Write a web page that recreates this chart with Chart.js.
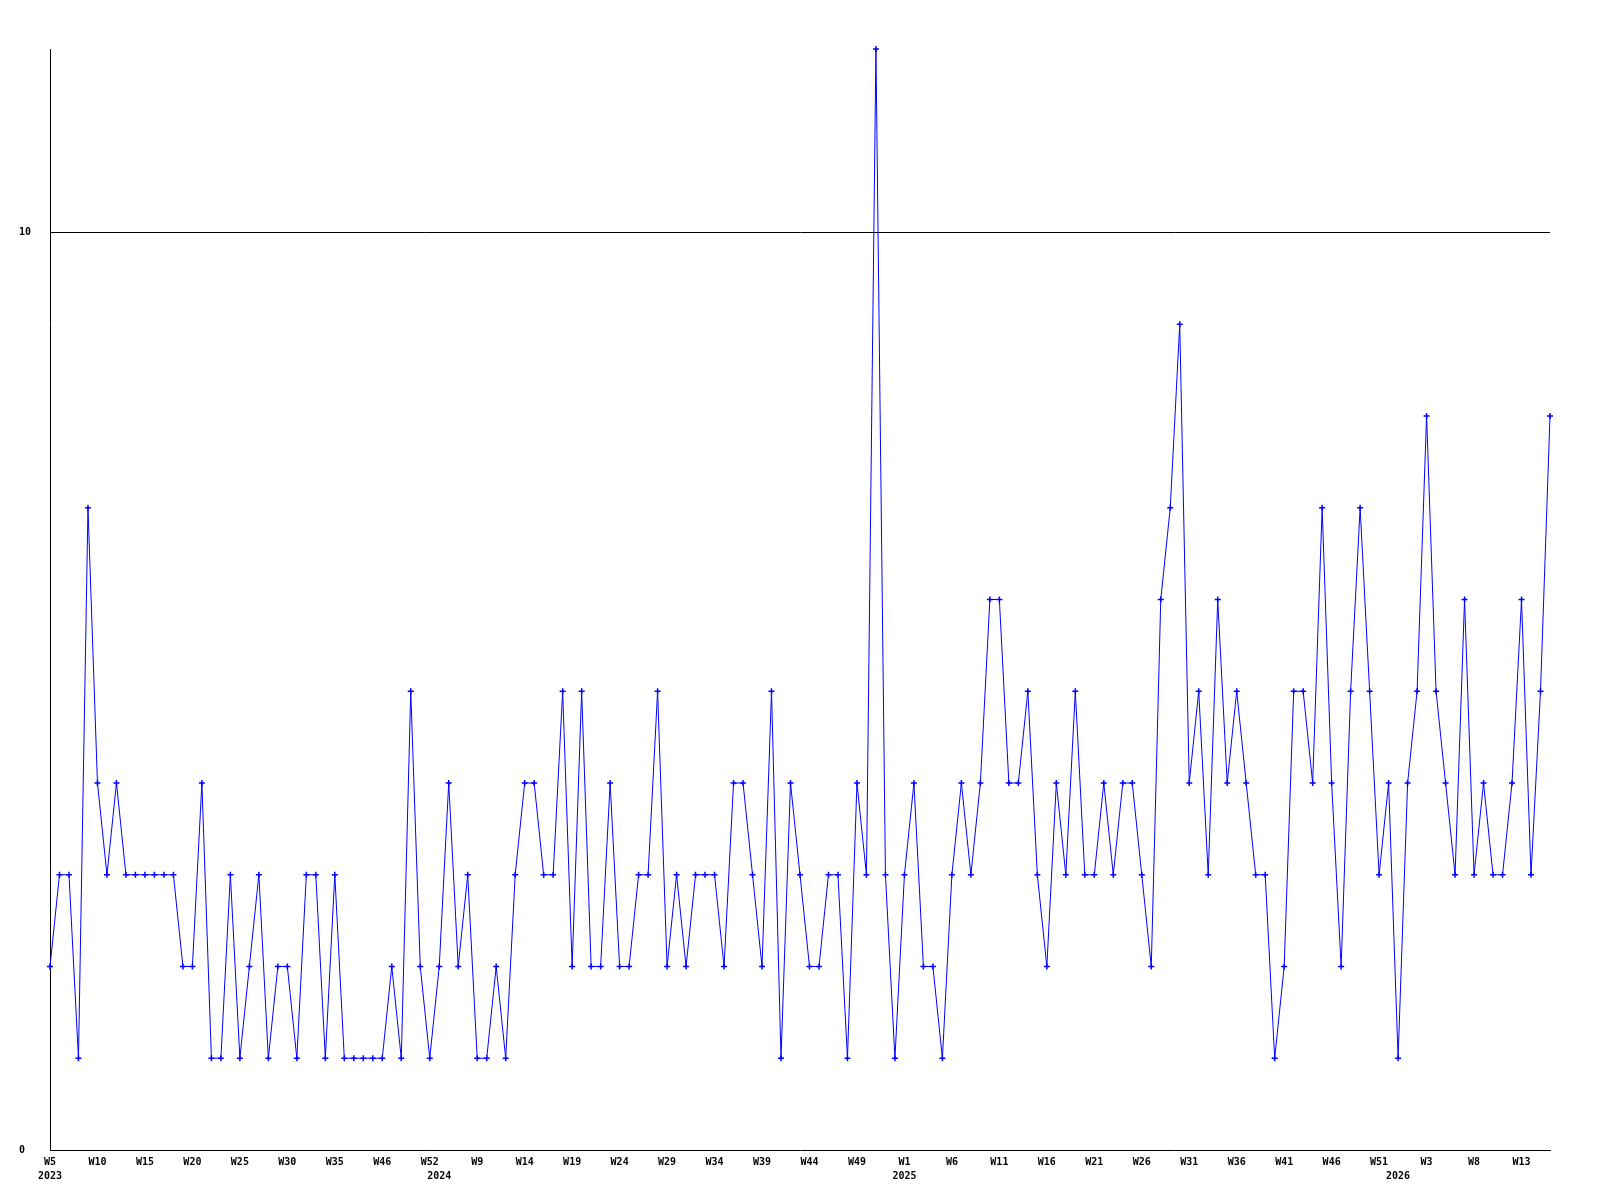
<!DOCTYPE html>
<html>
<head>
<meta charset="utf-8">
<script src="https://cdn.jsdelivr.net/npm/chart.js@4/dist/chart.umd.min.js"></script>
<style>
    html, body { margin: 0; padding: 0; background: #ffffff; }
    #wrap { width: 1600px; height: 1200px; }
</style>
</head>
<body>
<div id="wrap"><canvas id="weeklyChart" width="1600" height="1200"></canvas></div>
<script>
// week labels, one list per year
var weeks2023 = ['W5','W6','W7','W8','W9','W10','W11','W12','W13','W14','W15','W16','W17','W18','W19','W20',
    'W21','W22','W23','W24','W25','W26','W27','W28','W29','W30','W31','W32','W33','W34','W35',
    'W37','W39','W42','W44','W46','W47','W48','W49','W51','W52'];
var weeks2024 = ['W1','W3','W5','W7','W9','W10','W11','W12','W13','W14','W15','W16','W17','W18','W19','W20',
    'W21','W22','W23','W24','W25','W26','W27','W28','W29','W30','W31','W32','W33','W34','W35','W36',
    'W37','W38','W39','W40','W41','W42','W43','W44','W45','W46','W47','W48','W49','W50','W51','W52','W53'];
var weeks2025 = ['W1','W2','W3','W4','W5','W6','W7','W8','W9','W10','W11','W12','W13','W14','W15','W16',
    'W17','W18','W19','W20','W21','W22','W23','W24','W25','W26','W27','W28','W29','W30','W31','W32',
    'W33','W34','W35','W36','W37','W38','W39','W40','W41','W42','W43','W44','W45','W46','W47','W48',
    'W49','W50','W51','W52'];
var weeks2026 = ['W0','W1','W2','W3','W4','W5','W6','W7','W8','W9','W10','W11','W12','W13','W14','W15','W16'];
var years = ['2023', '2024', '2025', '2026'];

var counts = [
    2, 3, 3, 1, 7, 4, 3, 4, 3, 3,
    3, 3, 3, 3, 2, 2, 4, 1, 1, 3,
    1, 2, 3, 1, 2, 2, 1, 3, 3, 1,
    3, 1, 1, 1, 1, 1, 2, 1, 5, 2,
    1, 2, 4, 2, 3, 1, 1, 2, 1, 3,
    4, 4, 3, 3, 5, 2, 5, 2, 2, 4,
    2, 2, 3, 3, 5, 2, 3, 2, 3, 3,
    3, 2, 4, 4, 3, 2, 5, 1, 4, 3,
    2, 2, 3, 3, 1, 4, 3, 12, 3, 1,
    3, 4, 2, 2, 1, 3, 4, 3, 4, 6,
    6, 4, 4, 5, 3, 2, 4, 3, 5, 3,
    3, 4, 3, 4, 4, 3, 2, 6, 7, 9,
    4, 5, 3, 6, 4, 5, 4, 3, 3, 1,
    2, 5, 5, 4, 7, 4, 2, 5, 7, 5,
    3, 4, 1, 4, 5, 8, 5, 4, 3, 6,
    3, 4, 3, 3, 4, 6, 3, 5, 8
];

var yTicks = [0, 10];

var allWeeks = weeks2023.concat(weeks2024, weeks2025, weeks2026);

// index of first week of each year -> year label
var yearAt = {};
var pos = 0;
[weeks2023, weeks2024, weeks2025, weeks2026].forEach(function (w, i) {
    yearAt[pos] = years[i];
    pos += w.length;
});

var tickFont = { family: 'DejaVu Sans Mono', size: 10, weight: 'bold' };

var ctx = document.getElementById('weeklyChart').getContext('2d');
new Chart(ctx, {
    type: 'line',
    data: {
        labels: allWeeks,
        datasets: [{
            data: counts,
            borderColor: '#0000ff',
            backgroundColor: '#0000ff',
            borderWidth: 1,
            tension: 0,
            pointStyle: 'cross',
            pointRadius: 3,
            pointBorderWidth: 1.5,
            pointBorderColor: '#0000ff',
            clip: false
        }]
    },
    options: {
        responsive: false,
        animation: false,
        events: [],
        layout: { padding: { left: 19, right: 50, top: 49, bottom: 0 } },
        plugins: {
            legend: { display: false },
            tooltip: { enabled: false }
        },
        scales: {
            x: {
                type: 'category',
                position: 'bottom',
                weight: 0,
                grid: { display: false, drawTicks: false },
                border: { display: true, color: '#000000', width: 1 },
                ticks: {
                    autoSkip: false,
                    maxRotation: 0,
                    minRotation: 0,
                    padding: 6,
                    color: '#000000',
                    font: tickFont,
                    callback: function (value, index) {
                        return index % 5 === 0 ? this.getLabelForValue(value) : '';
                    }
                },
                afterFit: function (scale) { scale.height = 20; }
            },
            x2: {
                type: 'category',
                position: 'bottom',
                weight: 1,
                grid: { display: false, drawTicks: false },
                border: { display: false },
                ticks: {
                    autoSkip: false,
                    maxRotation: 0,
                    minRotation: 0,
                    padding: 0,
                    color: '#000000',
                    font: tickFont,
                    callback: function (value, index) {
                        return yearAt[index] || '';
                    }
                },
                afterFit: function (scale) { scale.height = 30; }
            },
            y: {
                min: 0,
                max: 12,
                grid: {
                    drawTicks: false,
                    color: function (c) { return c.tick && c.tick.value === 10 ? '#000000' : 'rgba(0,0,0,0)'; },
                    lineWidth: 1
                },
                border: { display: true, color: '#000000', width: 1 },
                ticks: {
                    crossAlign: 'far',
                    color: '#000000',
                    font: tickFont
                },
                afterBuildTicks: function (scale) {
                    scale.ticks = yTicks.map(function (v) { return { value: v }; });
                },
                afterFit: function (scale) { scale.width = 31; }
            }
        }
    }
});
</script>
</body>
</html>
